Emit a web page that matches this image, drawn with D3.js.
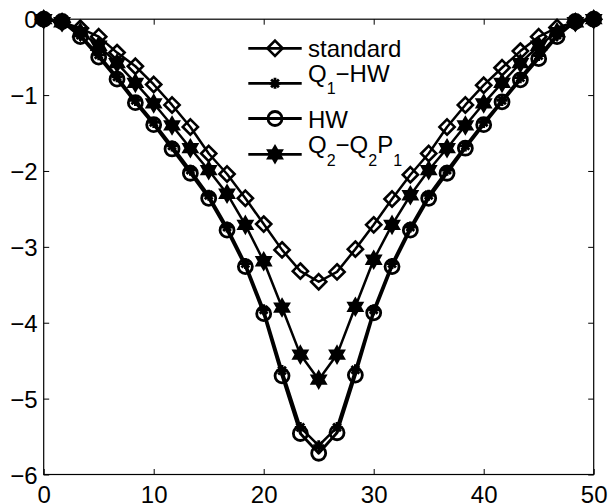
<!DOCTYPE html>
<html>
<head>
<meta charset="utf-8">
<script src="https://cdn.jsdelivr.net/npm/d3@7"></script>
<style>
  html, body { margin: 0; padding: 0; background: #fff; }
  svg { display: block; }
  text { font-family: "Liberation Sans", Arial, Helvetica, sans-serif; fill: #000; }
</style>
</head>
<body>
<svg id="chart" width="609" height="504"></svg>
<script>
// Sample positions along the domain
const xs = [0, 1.667, 3.333, 5, 6.667, 8.333, 10, 11.667, 13.333, 15, 16.667, 18.333,
            20, 21.667, 23.333, 25, 26.667, 28.333, 30, 31.667, 33.333, 35, 36.667,
            38.333, 40, 41.667, 43.333, 45, 46.667, 48.333, 50];

const standard = [0, -0.04, -0.12, -0.23, -0.44, -0.62, -0.86, -1.13, -1.42, -1.77, -2.04,
                  -2.36, -2.70, -3.04, -3.32, -3.46, -3.33, -3.03, -2.71, -2.37, -2.05,
                  -1.77, -1.42, -1.13, -0.87, -0.64, -0.42, -0.23, -0.11, -0.04, 0];

const q1hw = [0, -0.03, -0.21, -0.47, -0.76, -1.07, -1.36, -1.67, -1.99, -2.32, -2.74,
              -3.22, -3.83, -4.63, -5.38, -5.62, -5.38, -4.62, -3.83, -3.22, -2.74,
              -2.32, -1.99, -1.67, -1.36, -1.07, -0.77, -0.48, -0.21, -0.03, 0];

const hw = [0, -0.03, -0.23, -0.50, -0.79, -1.10, -1.39, -1.71, -2.03, -2.36, -2.78,
            -3.26, -3.88, -4.70, -5.46, -5.72, -5.45, -4.69, -3.87, -3.26, -2.78,
            -2.36, -2.03, -1.70, -1.39, -1.09, -0.80, -0.52, -0.23, -0.03, 0];

const q2q2p1 = [0, -0.04, -0.17, -0.35, -0.58, -0.84, -1.11, -1.40, -1.70, -1.99, -2.30,
                -2.71, -3.19, -3.80, -4.42, -4.75, -4.42, -3.79, -3.17, -2.71, -2.32,
                -1.99, -1.70, -1.40, -1.11, -0.84, -0.58, -0.35, -0.17, -0.04, 0];

const xTicks = [0, 10, 20, 30, 40, 50];
const yTicks = [0, -1, -2, -3, -4, -5, -6];

const svg = d3.select("#chart");
const plotL = 43.7, plotR = 593.7, plotT = 19.2, plotB = 474.5;
const x = d3.scaleLinear().domain([0, 50]).range([plotL, plotR]);
const y = d3.scaleLinear().domain([-6, 0]).range([plotB, plotT]);

// Marker shapes
function diamondPath(s) { return `M0,${-s}L${s},0L0,${s}L${-s},0Z`; }
function hexagramPath(R) {
  const r = R / Math.sqrt(3);
  let p = "";
  for (let k = 0; k < 12; k++) {
    const a = -Math.PI / 2 + k * Math.PI / 6;
    const rad = k % 2 === 0 ? R : r;
    p += (k === 0 ? "M" : "L") + (rad * Math.cos(a)).toFixed(2) + "," + (rad * Math.sin(a)).toFixed(2);
  }
  return p + "Z";
}
function asteriskPath(s) {
  const d = s * Math.SQRT1_2;
  return `M${-s},0L${s},0M0,${-s}L0,${s}M${-d},${-d}L${d},${d}M${-d},${d}L${d},${-d}`;
}

const series = [
  { name: "standard", values: standard, lw: 2.5, marker: "diamond" },
  { name: "q1hw", values: q1hw, lw: 2.5, marker: "asterisk" },
  { name: "hw", values: hw, lw: 2.8, marker: "circle" },
  { name: "q2q2p1", values: q2q2p1, lw: 2.5, marker: "hexagram" }
];

function drawMarker(g, type) {
  if (type === "diamond") {
    g.append("path").attr("d", diamondPath(7.6))
      .attr("fill", "none").attr("stroke", "#000").attr("stroke-width", 2.6);
  } else if (type === "circle") {
    g.append("circle").attr("r", 7)
      .attr("fill", "none").attr("stroke", "#000").attr("stroke-width", 2.8);
  } else if (type === "hexagram") {
    g.append("path").attr("d", hexagramPath(8.5))
      .attr("fill", "#000").attr("stroke", "#000").attr("stroke-width", 1.8)
      .attr("stroke-linejoin", "miter");
  } else if (type === "asterisk") {
    g.append("path").attr("d", asteriskPath(5.5))
      .attr("fill", "none").attr("stroke", "#000").attr("stroke-width", 2.8);
  }
}

// Axis box
svg.append("rect")
  .attr("x", plotL).attr("y", plotT)
  .attr("width", plotR - plotL).attr("height", plotB - plotT)
  .attr("fill", "none").attr("stroke", "#000").attr("stroke-width", 1.2);

// Bottom axis (ticks pointing inward), plus mirrored ticks on top
const xAxis = svg.append("g").attr("transform", `translate(0,${plotB})`)
  .call(d3.axisBottom(x).tickValues(xTicks).tickSizeInner(-5.5).tickSizeOuter(0).tickFormat(d3.format("d")));
xAxis.select(".domain").remove();
xAxis.selectAll("line").attr("stroke", "#000");
xAxis.selectAll("text").attr("y", 28.5).attr("dy", null)
  .style("font-size", "24px").style("font-family", "Liberation Sans, Arial, sans-serif");

const xTop = svg.append("g").attr("transform", `translate(0,${plotT})`)
  .call(d3.axisTop(x).tickValues(xTicks).tickSizeInner(-5.5).tickSizeOuter(0).tickFormat(""));
xTop.select(".domain").remove();
xTop.selectAll("line").attr("stroke", "#000");

// Left axis with labels, plus mirrored ticks on right
const fmtMinus = d => (d < 0 ? "\u2212" + Math.abs(d) : String(d));
const yAxis = svg.append("g").attr("transform", `translate(${plotL},0)`)
  .call(d3.axisLeft(y).tickValues(yTicks).tickSizeInner(-5.5).tickSizeOuter(0).tickFormat(fmtMinus));
yAxis.select(".domain").remove();
yAxis.selectAll("line").attr("stroke", "#000");
yAxis.selectAll("text").attr("x", -6).attr("dy", "0.36em")
  .style("font-size", "24px").style("font-family", "Liberation Sans, Arial, sans-serif");

const yRight = svg.append("g").attr("transform", `translate(${plotR},0)`)
  .call(d3.axisRight(y).tickValues(yTicks).tickSizeInner(-5.5).tickSizeOuter(0).tickFormat(""));
yRight.select(".domain").remove();
yRight.selectAll("line").attr("stroke", "#000");

// Lines and markers
const line = d3.line().x((d, i) => x(xs[i])).y(d => y(d));
series.forEach(s => {
  svg.append("path").datum(s.values)
    .attr("d", line)
    .attr("fill", "none").attr("stroke", "#000")
    .attr("stroke-width", s.lw).attr("stroke-linejoin", "round");
  const mg = svg.append("g");
  s.values.forEach((v, i) => {
    const g = mg.append("g").attr("transform", `translate(${x(xs[i])},${y(v)})`);
    drawMarker(g, s.marker);
  });
});

// Legend
const legend = svg.append("g");
const legendRows = [
  { marker: "diamond", lw: 2.8, y: 48.3, textY: 56.7, parts: [["standard", 0]] },
  { marker: "asterisk", lw: 2.8, y: 83.3, textY: 81.7, parts: [["Q", 0], ["1", 1], ["\u2212HW", 0]] },
  { marker: "circle", lw: 2.8, y: 118.5, textY: 128.3, parts: [["HW", 0]] },
  { marker: "hexagram", lw: 2.8, y: 154.3, textY: 153.3, parts: [["Q", 0], ["2", 1], ["\u2212Q", 0], ["2", 1], ["P", 0], ["1", 1]] }
];
legendRows.forEach(r => {
  legend.append("line")
    .attr("x1", 248.3).attr("x2", 301.7).attr("y1", r.y).attr("y2", r.y)
    .attr("stroke", "#000").attr("stroke-width", r.lw);
  const g = legend.append("g").attr("transform", `translate(275,${r.y})`);
  drawMarker(g, r.marker);
  const t = legend.append("text").attr("x", 308).attr("y", r.textY).style("font-size", "24px");
  let sub = false;
  r.parts.forEach(([txt, isSub]) => {
    const ts = t.append("tspan").text(txt);
    if (isSub && !sub) { ts.attr("dy", 12.5).style("font-size", "16px"); sub = true; }
    else if (isSub && sub) { ts.style("font-size", "16px"); }
    else if (!isSub && sub) { ts.attr("dy", -12.5); sub = false; }
  });
});
</script>
</body>
</html>
